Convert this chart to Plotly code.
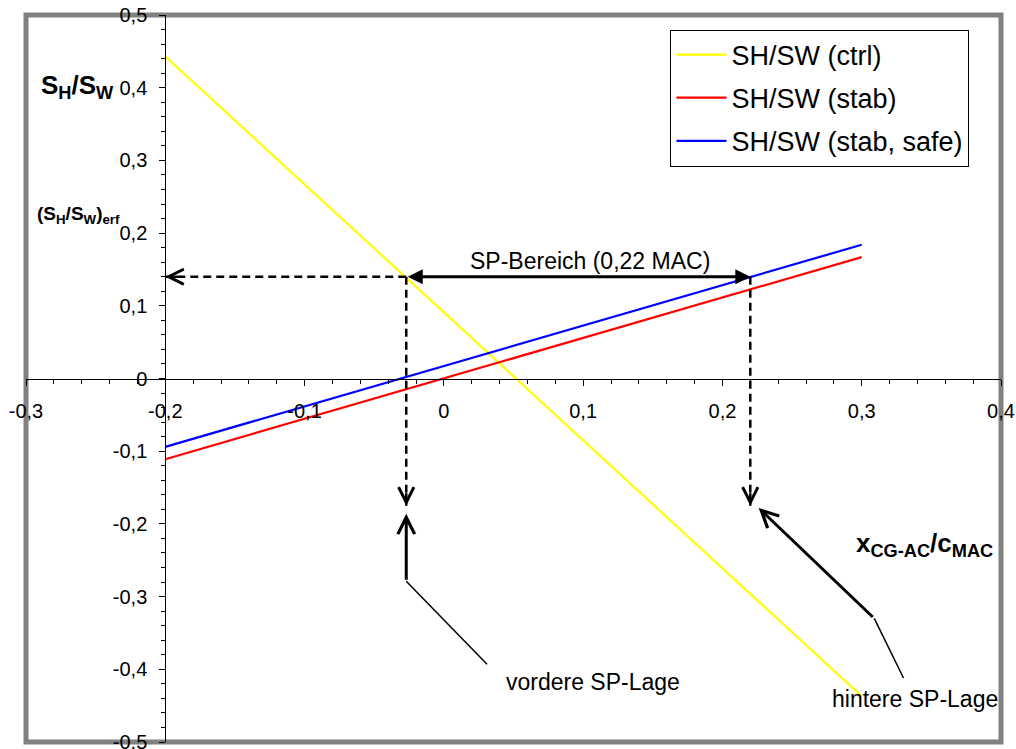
import plotly.graph_objects as go

# ---- data ----
x_ends = [-0.2, 0.3]
sh_sw_ctrl = [0.443, -0.437]
sh_sw_stab = [-0.111, 0.167]
sh_sw_stab_safe = [-0.094, 0.184]
series_names = ["SH/SW (ctrl)", "SH/SW (stab)", "SH/SW (stab, safe)"]
series_colors = ["#FFFF00", "#FF0000", "#0000FF"]

# key values of the construction
sh_sw_req = 0.14          # (SH/SW)_erf
x_front = -0.027          # vordere SP-Lage
x_rear = 0.22             # hintere SP-Lage
y_drop = -0.175           # end of dashed drop lines

x_tickvals = [-0.3, -0.2, -0.1, 0, 0.1, 0.2, 0.3, 0.4]
x_ticktext = ["-0,3", "-0,2", "-0,1", "0", "0,1", "0,2", "0,3", "0,4"]
y_tickvals = [-0.5, -0.4, -0.3, -0.2, -0.1, 0, 0.1, 0.2, 0.3, 0.4, 0.5]
y_ticktext = ["-0,5", "-0,4", "-0,3", "-0,2", "-0,1", "0", "0,1", "0,2", "0,3", "0,4", "0,5"]

FONT = "Liberation Sans, Arial, sans-serif"

fig = go.Figure()
for name, ys, col in zip(series_names, [sh_sw_ctrl, sh_sw_stab, sh_sw_stab_safe], series_colors):
    fig.add_trace(go.Scatter(x=x_ends, y=ys, mode="lines", name=name,
                             line=dict(color=col, width=2.2), legendgroup=name))

# dashed helper lines
dash = "8px,5px"
shapes = [
    dict(type="line", xref="x", yref="y", x0=x_front, y0=sh_sw_req, x1=-0.2, y1=sh_sw_req,
         line=dict(color="black", width=2.5, dash=dash)),
    dict(type="line", xref="x", yref="y", x0=x_front, y0=sh_sw_req, x1=x_front, y1=y_drop,
         line=dict(color="black", width=2.5, dash=dash)),
    dict(type="line", xref="x", yref="y", x0=x_rear, y0=sh_sw_req, x1=x_rear, y1=y_drop,
         line=dict(color="black", width=2.5, dash=dash)),
    # thin leader lines
    dict(type="line", xref="x", yref="y", x0=x_front, y0=-0.279, x1=0.031, y1=-0.393,
         line=dict(color="black", width=1.5)),
    dict(type="line", xref="x", yref="y", x0=0.309, y0=-0.330, x1=0.330, y1=-0.412,
         line=dict(color="black", width=1.5)),
    # plot frame
    dict(type="rect", xref="paper", yref="paper", x0=0, y0=0, x1=1, y1=1,
         line=dict(color="#808080", width=5), layer="below"),
]

ann = []
# open arrowheads on dashed lines
ann.append(dict(x=-0.2, y=sh_sw_req, xref="x", yref="y", ax=14, ay=0, axref="pixel", ayref="pixel",
                text="", showarrow=True, arrowhead=5, arrowwidth=2.5, arrowsize=1.2, arrowcolor="black"))
ann.append(dict(x=x_front, y=y_drop, xref="x", yref="y", ax=0, ay=-14, text="", showarrow=True,
                arrowhead=5, arrowwidth=2.5, arrowsize=1.2, arrowcolor="black"))
ann.append(dict(x=x_rear, y=y_drop, xref="x", yref="y", ax=0, ay=-14, text="", showarrow=True,
                arrowhead=5, arrowwidth=2.5, arrowsize=1.2, arrowcolor="black"))
# double arrow SP-Bereich
ann.append(dict(x=x_rear, y=sh_sw_req, ax=x_front, ay=sh_sw_req, xref="x", yref="y",
                axref="x", ayref="y", text="", showarrow=True, arrowhead=2, startarrowhead=2,
                arrowside="end+start", arrowwidth=3, arrowsize=1, startarrowsize=1, arrowcolor="black"))
# solid pointer arrows
ann.append(dict(x=x_front, y=-0.186, ax=x_front, ay=-0.279, xref="x", yref="y", axref="x", ayref="y",
                text="", showarrow=True, arrowhead=5, arrowwidth=3, arrowsize=1.1, arrowcolor="black"))
ann.append(dict(x=0.226, y=-0.178, ax=0.309, ay=-0.330, xref="x", yref="y", axref="x", ayref="y",
                text="", showarrow=True, arrowhead=5, arrowwidth=3, arrowsize=1.1, arrowcolor="black"))
# texts
ann.append(dict(x=0.105, y=0.161, xref="x", yref="y", text="SP-Bereich (0,22 MAC)", showarrow=False,
                font=dict(size=23, color="black", family=FONT)))
ann.append(dict(x=0.107, y=-0.418, xref="x", yref="y", text="vordere SP-Lage", showarrow=False,
                font=dict(size=23, color="black", family=FONT)))
ann.append(dict(x=0.338, y=-0.441, xref="x", yref="y", text="hintere SP-Lage", showarrow=False,
                font=dict(size=23, color="black", family=FONT)))
ann.append(dict(x=-0.263, y=0.401, xref="x", yref="y", text="<b>S<sub>H</sub>/S<sub>W</sub></b>",
                showarrow=False, font=dict(size=26, color="black", family=FONT)))
ann.append(dict(x=-0.262, y=0.225, xref="x", yref="y", text="<b>(S<sub>H</sub>/S<sub>W</sub>)<sub>erf</sub></b>",
                showarrow=False, font=dict(size=19, color="black", family=FONT)))
ann.append(dict(x=0.345, y=-0.228, xref="x", yref="y", text="<b>x<sub>CG-AC</sub>/c<sub>MAC</sub></b>",
                showarrow=False, font=dict(size=26, color="black", family=FONT)))

fig.update_layout(
    width=1016, height=749,
    margin=dict(l=26, r=15, t=15, b=7, autoexpand=False),
    paper_bgcolor="white", plot_bgcolor="rgba(0,0,0,0)",
    font=dict(family=FONT, color="black"),
    showlegend=True,
    legend=dict(x=0.661, y=0.98, xanchor="left", yanchor="top",
                bordercolor="black", borderwidth=1, bgcolor="white",
                font=dict(size=27, family=FONT, color="black"),
                itemwidth=50,
                traceorder="grouped", tracegroupgap=5),
    xaxis=dict(range=[-0.3, 0.4], domain=[0, 1], anchor="free", position=0.5, automargin=False,
               showgrid=False, zeroline=False, showline=True, linecolor="black", linewidth=1,
               tickvals=x_tickvals, ticktext=x_ticktext, ticks="outside", ticklen=6, tickcolor="black",
               ticklabelstandoff=8, ticklabeloverflow="allow",
               tickfont=dict(size=20, family=FONT, color="black"),
               minor=dict(dtick=0.02, ticks="outside", ticklen=4, tickcolor="black", showgrid=False)),
    yaxis=dict(range=[-0.5, 0.5], domain=[0, 1], anchor="free", position=1/7, automargin=False,
               showgrid=False, zeroline=False, showline=True, linecolor="black", linewidth=1,
               tickvals=y_tickvals, ticktext=y_ticktext, ticks="outside", ticklen=6, tickcolor="black",
               ticklabelstandoff=8, ticklabeloverflow="allow",
               tickfont=dict(size=20, family=FONT, color="black"),
               minor=dict(dtick=0.02, ticks="outside", ticklen=4, tickcolor="black", showgrid=False)),
    shapes=shapes,
    annotations=ann,
)

fig.write_html("out.html", config={"displayModeBar": False},
               post_script="document.body.style.margin='0';")
